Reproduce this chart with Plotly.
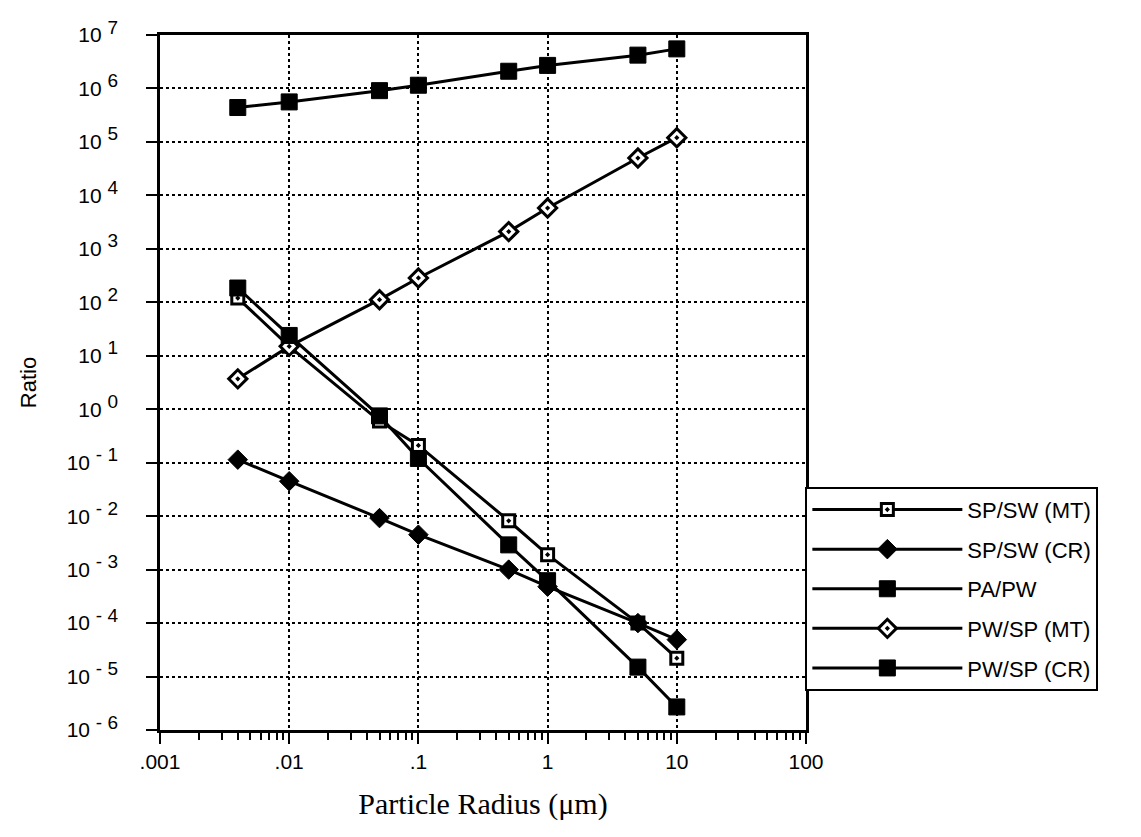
import plotly.graph_objects as go

radius = [0.004, 0.01, 0.05, 0.1, 0.5, 1, 5, 10]

sp_sw_mt = [120, 15, 0.6, 0.21, 0.0082, 0.0019, 1.0e-4, 2.2e-5]
sp_sw_cr = [0.114, 0.045, 0.0092, 0.0045, 1.0e-3, 4.8e-4, 1.0e-4, 4.9e-5]
pa_pw = [4.4e5, 5.6e5, 9.1e5, 1.15e6, 2.1e6, 2.7e6, 4.2e6, 5.5e6]
pw_sp_mt = [3.7, 15, 112, 285, 2.1e3, 5.8e3, 5.0e4, 1.2e5]
pw_sp_cr = [185, 24, 0.75, 0.12, 0.0029, 6.2e-4, 1.5e-5, 2.7e-6]

names = ["SP/SW (MT)", "SP/SW (CR)", "PA/PW", "PW/SP (MT)", "PW/SP (CR)"]

x_label_alias = {"0.001": ".001", "0.01": ".01", "0.1": ".1"}
y_exps = list(range(-6, 8))

series = [sp_sw_mt, sp_sw_cr, pa_pw, pw_sp_mt, pw_sp_cr]
markers = [
    dict(symbol="square-dot", size=12, color="white", line=dict(color="black", width=3)),
    dict(symbol="diamond", size=15, color="black", line=dict(color="black", width=1)),
    dict(symbol="square", size=16, color="black", line=dict(color="black", width=1)),
    dict(symbol="diamond-dot", size=14, color="white", line=dict(color="black", width=3)),
    dict(symbol="square", size=16, color="black", line=dict(color="black", width=1)),
]

fig = go.Figure()
for i, (name, vals, mk) in enumerate(zip(names, series, markers)):
    fig.add_trace(go.Scatter(
        x=radius, y=vals, name=name, mode="lines+markers",
        line=dict(color="black", width=3), marker=mk,
        legendgroup=f"g{i}", cliponaxis=False,
    ))

fig.update_layout(
    width=1141, height=837,
    margin=dict(l=152, r=343, t=27, b=115, autoexpand=False),
    paper_bgcolor="white", plot_bgcolor="white",
    font=dict(family="Liberation Sans, Arial, sans-serif", size=19, color="black"),
    showlegend=True,
    legend=dict(
        x=0.999, y=0.35, xanchor="left", yanchor="top",
        bordercolor="black", borderwidth=2, bgcolor="white",
        itemwidth=150, tracegroupgap=8,
        font=dict(size=22, family="Liberation Sans, Arial, sans-serif"),
    ),
)

fig.update_xaxes(
    type="log", range=[-3, 2], dtick=1, labelalias=x_label_alias,
    automargin=False,
    showline=True, linecolor="black", linewidth=2.5, mirror=True,
    ticks="outside", ticklen=11, tickwidth=2, tickcolor="black",
    minor=dict(ticks="outside", ticklen=7, tickwidth=2, tickcolor="black",
               dtick="D1", showgrid=False),
    showgrid=True, gridcolor="black", gridwidth=1.8, griddash="dot",
    zeroline=False,
    tickfont=dict(size=21),
    title=dict(text="Particle Radius (μm)", font=dict(family="Liberation Serif, serif", size=30), standoff=22),
)

fig.update_yaxes(
    type="log", range=[-6, 7],
    automargin=False,
    tickvals=[10.0 ** e for e in y_exps],
    ticktext=[f"10 <sup><span style='font-size:19px'>{'- ' if e < 0 else ''}{abs(e)}</span></sup>" for e in y_exps],
    showline=True, linecolor="black", linewidth=2.5, mirror=True,
    ticks="outside", ticklen=11, tickwidth=2, tickcolor="black",
    ticklabelstandoff=24,
    showgrid=True, gridcolor="black", gridwidth=1.8, griddash="dot",
    zeroline=False,
    tickfont=dict(size=21),
    title=dict(text="Ratio", font=dict(size=22), standoff=24),
)

fig.write_html("out.html")
